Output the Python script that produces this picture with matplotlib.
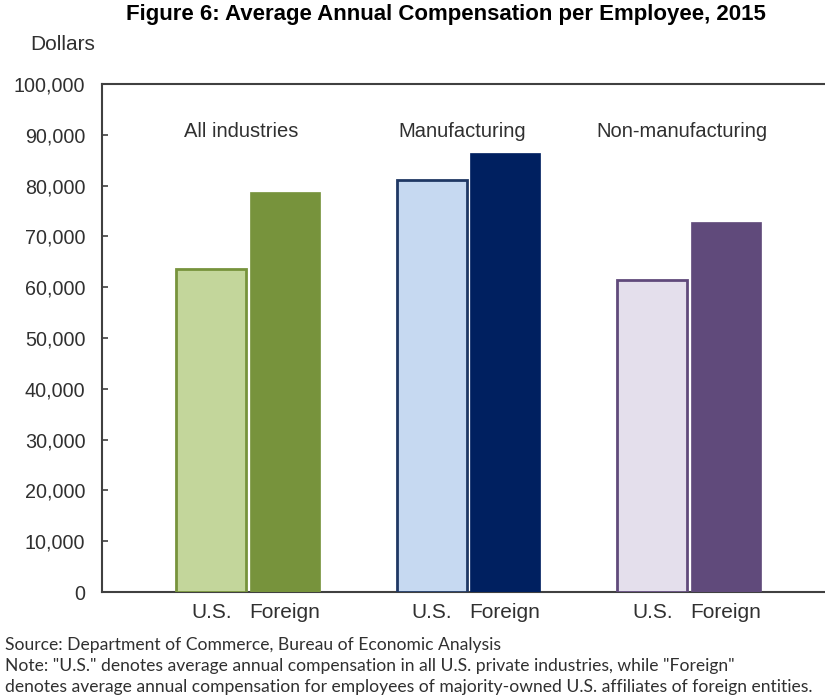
import matplotlib as mpl
mpl.rcParams['font.family'] = ['Liberation Sans', 'DejaVu Sans']
import matplotlib.pyplot as plt
import numpy as np

# data
groups      = ['All industries', 'Manufacturing', 'Non-manufacturing']
us_vals     = [63600, 81200, 61500]
foreign_vals= [78800, 86500, 72900]
tick_names  = ['U.S.', 'Foreign']
yticks      = np.arange(0, 100001, 10000)

us_fill     = ['#c3d69b', '#c6d9f1', '#e4dfec']
us_edge     = ['#77933c', '#1f3864', '#604a7b']
fg_fill     = ['#77933c', '#002060', '#604a7b']

TXT = '#303030'

fig = plt.figure(figsize=(8.25, 7), dpi=100)
ax  = fig.add_axes([102/825, 1-592/700, (835-102)/825, (592-84)/700])

x  = np.arange(len(groups))
bw = 0.318
off = 0.166
ax.bar(x-off, us_vals, width=bw, color=us_fill, edgecolor=us_edge, linewidth=2, zorder=3)
ax.bar(x+off, foreign_vals, width=bw, color=fg_fill, edgecolor=fg_fill, linewidth=0.5, zorder=3)

ax.set_xlim(-0.662, 2.662)
ax.set_ylim(0, 100000)
ax.set_yticks(yticks)
ax.set_yticklabels(['{:,}'.format(v) for v in yticks])

ticks_x = np.concatenate([x-off, x+off])
ax.set_xticks(np.sort(ticks_x))
ax.set_xticklabels(tick_names*len(groups))

ax.tick_params(axis='y', direction='in', length=4, width=1.2, color='#404040',
               labelsize=14.2, labelcolor=TXT, pad=12)
ax.tick_params(axis='x', length=0, labelsize=15, labelcolor=TXT, pad=8)

for s in ['left', 'top', 'bottom']:
    ax.spines[s].set_color('#404040')
    ax.spines[s].set_linewidth(1.5)
ax.spines['right'].set_visible(False)

for xi, g in zip(x, groups):
    ax.text(xi-0.03, 90600, g, ha='center', va='center', fontsize=14.5, color=TXT)

fig.text(0.54, 0.979, 'Figure 6: Average Annual Compensation per Employee, 2015',
         ha='center', va='center', fontsize=16, fontweight='bold', color='black')
fig.text(30/825, 1-45/700, 'Dollars', ha='left', va='center', fontsize=15, color=TXT)

notes = ['Source: Department of Commerce, Bureau of Economic Analysis',
         'Note: "U.S." denotes average annual compensation in all U.S. private industries, while "Foreign"',
         'denotes average annual compensation for employees of majority-owned U.S. affiliates of foreign entities.']
for i, n in enumerate(notes):
    fig.text(5/825, 1-(645+21*i)/700, n, ha='left', va='center', fontsize=12.6,
             color=TXT, family=['Lato', 'DejaVu Sans'])

fig.savefig('out.png', dpi=100)
